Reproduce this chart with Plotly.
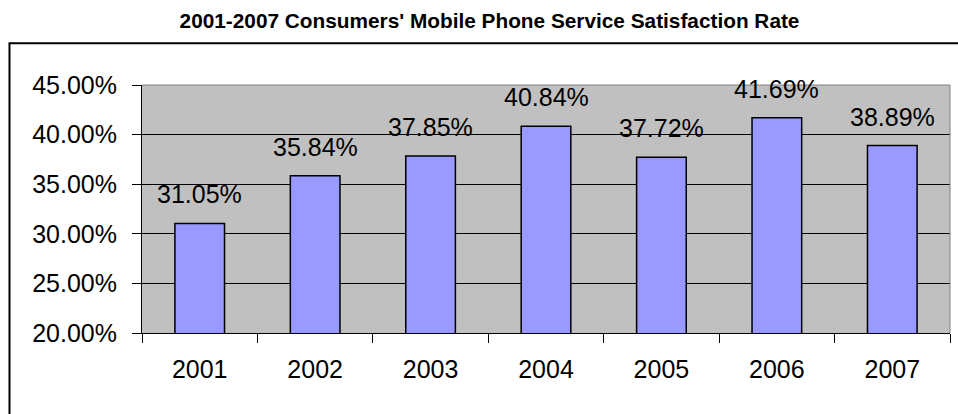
import plotly.graph_objects as go

years = ["2001", "2002", "2003", "2004", "2005", "2006", "2007"]
rates = [0.3105, 0.3584, 0.3785, 0.4084, 0.3772, 0.4169, 0.3889]
title_text = "2001-2007 Consumers' Mobile Phone Service Satisfaction Rate"
y_ticks = [0.20, 0.25, 0.30, 0.35, 0.40, 0.45]

FONT = "Liberation Sans, Arial, sans-serif"

fig = go.Figure()
fig.add_trace(go.Bar(
    x=years, y=rates,
    marker=dict(color="#9999FF", line=dict(color="black", width=1.5)),
    hoverinfo="x+y",
))

for i, v in enumerate(rates):
    fig.add_annotation(x=i, y=v, text=f"{v*100:.2f}%", showarrow=False,
                       yanchor="middle", yshift=29,
                       font=dict(family=FONT, size=25, color="black"))

# outer chart border
fig.add_shape(type="rect", xref="paper", yref="paper",
              x0=-0.164, x1=1.05, y0=-0.5, y1=1.168,
              line=dict(color="black", width=2), layer="below")
# plot border top/right (gray)
fig.add_shape(type="line", xref="paper", yref="paper", x0=0, x1=1, y0=1, y1=1,
              line=dict(color="#808080", width=1))
fig.add_shape(type="line", xref="paper", yref="paper", x0=1, x1=1, y0=0, y1=1,
              line=dict(color="#808080", width=1))

fig.update_layout(
    width=958, height=414,
    margin=dict(l=142, r=8, t=85, b=81),
    paper_bgcolor="white", plot_bgcolor="#C0C0C0",
    showlegend=False,
    bargap=0.57,
    font=dict(family=FONT, color="black"),
    title=dict(text=f"<b>{title_text}</b>", x=0.511, xref="container", y=0.95, yref="container",
               xanchor="center", yanchor="middle",
               font=dict(family=FONT, size=20.8, color="black")),
)
fig.update_xaxes(
    type="category", range=[-0.5, len(years) - 0.5],
    showline=True, linecolor="black", linewidth=1,
    ticks="outside", tickson="boundaries", ticklen=9, tickcolor="black",
    tickfont=dict(family=FONT, size=25), ticklabelstandoff=14, tickangle=0,
    showgrid=False,
)
fig.update_yaxes(
    range=[0.20, 0.45], tickvals=y_ticks, tickformat=".2%",
    showline=True, linecolor="black", linewidth=1,
    ticks="outside", ticklen=9, tickcolor="black",
    tickfont=dict(family=FONT, size=25), ticklabelstandoff=10,
    showgrid=True, gridcolor="black", gridwidth=1, zeroline=False,
)

fig.write_html("out.html")
